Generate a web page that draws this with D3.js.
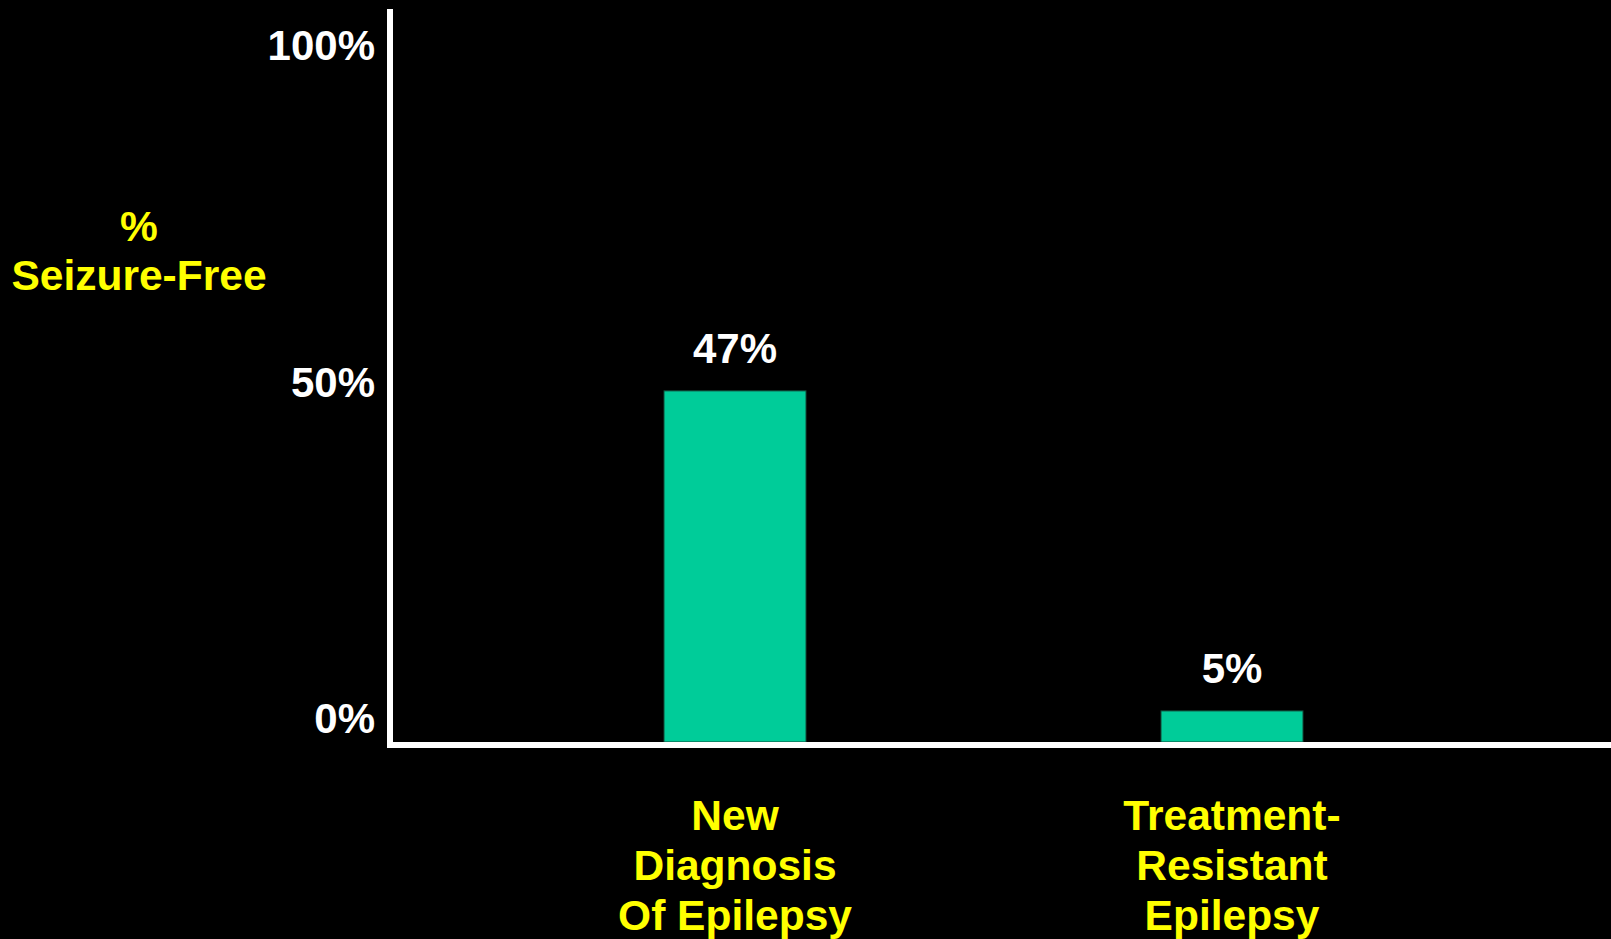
<!DOCTYPE html>
<html>
<head>
<meta charset="utf-8">
<script src="https://cdn.jsdelivr.net/npm/d3@7"></script>
<style>
  html, body { margin: 0; padding: 0; background: #000; overflow: hidden; }
  svg { display: block; }
  text { font-family: "Liberation Sans", Arial, sans-serif; font-weight: bold; }
</style>
</head>
<body>
<script>
// ---- data ----
const categories = [["New", "Diagnosis", "Of Epilepsy"], ["Treatment-", "Resistant", "Epilepsy"]];
const categoryKeys = ["New Diagnosis Of Epilepsy", "Treatment-Resistant Epilepsy"];
const values = [47, 5];
const valueLabels = ["47%", "5%"];
const tickValues = [0, 50, 100];
const tickLabels = ["0%", "50%", "100%"];
const yTitle = ["%", "Seizure-Free"];

// ---- layout ----
const W = 1611, H = 939;
const svg = d3.select("body").append("svg").attr("width", W).attr("height", H);
svg.append("rect").attr("width", W).attr("height", H).attr("fill", "#000");

const x = d3.scaleBand().domain(categoryKeys)
  .range([486.5, 1480.5]).paddingInner(0.7143).paddingOuter(0.35715);
const y = d3.scaleLinear().domain([0, 100]).range([749, -13]);
// tick labels sit on their own positions in the original slide
const yLabel = d3.scaleLinear().domain([0, 100]).range([733, 60]);

const base = y(0) - 4;      // centre of the x-axis line
const barBottom = base - 3; // bars rest on top of the axis line

// bars
svg.selectAll("rect.bar").data(values).enter().append("rect")
  .attr("class", "bar")
  .attr("x", (d, i) => x(categoryKeys[i]))
  .attr("width", x.bandwidth())
  .attr("y", d => y(d))
  .attr("height", d => barBottom - y(d))
  .attr("fill", "#00CC99")
  .attr("stroke", "#124a38")
  .attr("stroke-width", 1);

// value labels
svg.selectAll("text.val").data(values).enter().append("text")
  .attr("class", "val")
  .attr("x", (d, i) => x(categoryKeys[i]) + x.bandwidth() / 2)
  .attr("y", d => y(d) - 28)
  .attr("text-anchor", "middle")
  .attr("fill", "#fff")
  .attr("font-size", 42)
  .text((d, i) => valueLabels[i]);

// axes lines
svg.append("line").attr("x1", 390).attr("x2", 390).attr("y1", 9).attr("y2", base + 3)
  .attr("stroke", "#fff").attr("stroke-width", 6);
svg.append("line").attr("x1", 387).attr("x2", W).attr("y1", base).attr("y2", base)
  .attr("stroke", "#fff").attr("stroke-width", 6);

// tick labels
svg.selectAll("text.tick").data(tickValues).enter().append("text")
  .attr("class", "tick")
  .attr("x", 375)
  .attr("y", d => yLabel(d))
  .attr("text-anchor", "end")
  .attr("fill", "#fff")
  .attr("font-size", 42)
  .text((d, i) => tickLabels[i]);

// category labels
categories.forEach((lines, i) => {
  const cx = x(categoryKeys[i]) + x.bandwidth() / 2;
  const t = svg.append("text")
    .attr("text-anchor", "middle")
    .attr("fill", "#FFFF00")
    .attr("font-size", 42.5);
  lines.forEach((ln, j) => {
    t.append("tspan").attr("x", cx).attr("y", 830 + j * 50).text(ln);
  });
});

// y title
const yt = svg.append("text").attr("text-anchor", "middle").attr("fill", "#FFFF00").attr("font-size", 42.5);
yTitle.forEach((ln, j) => {
  yt.append("tspan").attr("x", 139).attr("y", 241 + j * 49).text(ln);
});
</script>
</body>
</html>
